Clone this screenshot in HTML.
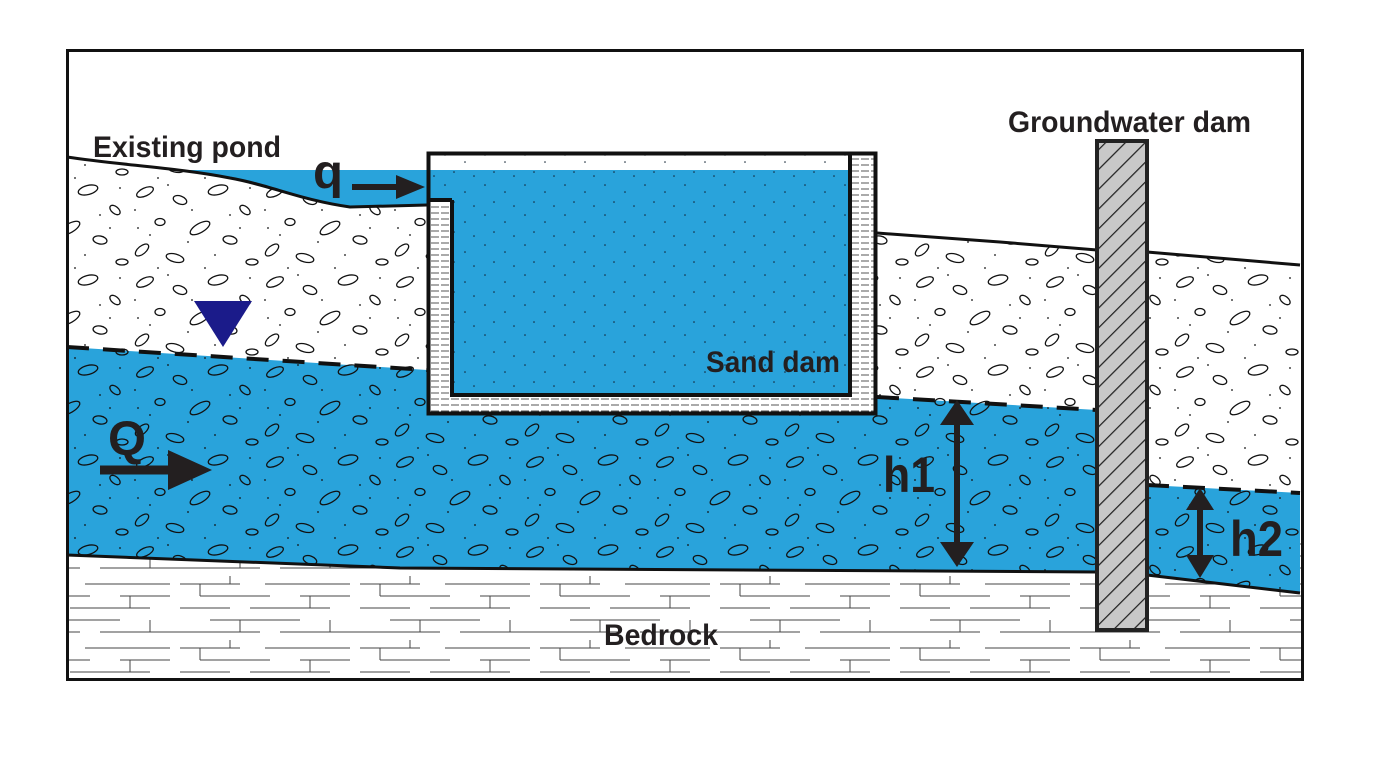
<!DOCTYPE html>
<html><head><meta charset="utf-8"><style>
html,body{margin:0;padding:0;background:#fff}
svg{display:block}
text{font-family:"Liberation Sans",sans-serif;font-weight:bold;fill:#231f20}
</style></head><body>
<svg width="1378" height="774" viewBox="0 0 1378 774" xmlns="http://www.w3.org/2000/svg">
<defs>
<pattern id="peb" width="130" height="90" patternUnits="userSpaceOnUse">
 <g fill="none" stroke="#111" stroke-width="1.3">
  <ellipse cx="15" cy="12" rx="9" ry="4" transform="rotate(-25 15 12)"/>
  <ellipse cx="50" cy="20" rx="7" ry="4" transform="rotate(20 50 20)"/>
  <ellipse cx="88" cy="10" rx="10" ry="4.5" transform="rotate(-15 88 10)"/>
  <ellipse cx="115" cy="30" rx="6" ry="3.5" transform="rotate(40 115 30)"/>
  <ellipse cx="30" cy="42" rx="5" ry="3.5"/>
  <ellipse cx="70" cy="48" rx="11" ry="4.5" transform="rotate(-30 70 48)"/>
  <ellipse cx="100" cy="60" rx="7" ry="4" transform="rotate(10 100 60)"/>
  <ellipse cx="12" cy="70" rx="8" ry="4" transform="rotate(-40 12 70)"/>
  <ellipse cx="45" cy="78" rx="9" ry="4" transform="rotate(15 45 78)"/>
  <ellipse cx="122" cy="82" rx="6" ry="3"/>
 </g>
 <g fill="#111">
  <circle cx="5" cy="30" r="0.9"/><circle cx="38" cy="5" r="0.9"/><circle cx="62" cy="30" r="0.9"/>
  <circle cx="100" cy="35" r="0.9"/><circle cx="20" cy="55" r="0.9"/><circle cx="85" cy="75" r="0.9"/>
  <circle cx="120" cy="8" r="0.9"/><circle cx="58" cy="62" r="0.9"/><circle cx="110" cy="48" r="0.9"/>
  <circle cx="28" cy="88" r="0.9"/><circle cx="75" cy="88" r="0.9"/><circle cx="8" cy="48" r="0.9"/>
 </g>
</pattern>
<pattern id="dots" width="40" height="30" patternUnits="userSpaceOnUse">
 <g fill="#123">
 <circle cx="5" cy="5" r="0.8"/><circle cx="25" cy="12" r="0.8"/><circle cx="14" cy="22" r="0.8"/><circle cx="34" cy="26" r="0.8"/>
 </g>
</pattern>
<pattern id="rock" width="180" height="64" patternUnits="userSpaceOnUse">
 <g stroke="#444" stroke-width="1" fill="none">
  <path d="M0 8H60M85 8H170M20 20H90M120 20H170M0 32H50M70 32H150M30 44H120M0 56H80M100 56H180"/>
  <path d="M50 0V8M130 20V32M60 44V56M20 8V20M150 44V56"/>
 </g>
</pattern>
<pattern id="wall" width="10" height="6" patternUnits="userSpaceOnUse">
 <path d="M1 3H9" stroke="#555" stroke-width="1"/>
</pattern>
<pattern id="hatch" width="14" height="14" patternUnits="userSpaceOnUse" patternTransform="rotate(45)">
 <rect width="14" height="14" fill="#c8c8c8"/>
 <path d="M0 0V14" stroke="#222" stroke-width="2.5"/>
</pattern>
</defs>

<rect x="67" y="50" width="1236" height="630" fill="#fff"/>
<rect x="67" y="540" width="1236" height="140" fill="url(#rock)"/>

<path d="M160 170 H430 V206 L350 207 C300 200 270 185 230 178 C200 173 180 171 160 170Z" fill="#29a3db"/>

<path d="M67 157 C120 165 180 168 230 178 C270 185 300 200 350 207 L427 205 V370 L67 347Z" fill="#fff"/>
<path d="M67 157 C120 165 180 168 230 178 C270 185 300 200 350 207 L427 205 V370 L67 347Z" fill="url(#peb)"/>
<path d="M877 233 L1000 242 L1097 250 V410 L877 397Z" fill="url(#peb)"/>
<path d="M1147 252 L1300 265 V493 L1147 485Z" fill="url(#peb)"/>

<path d="M67 347 L427 370 V415 H877 V397 L1097 410 V572 L400 568 L67 555Z" fill="#29a3db"/>
<path d="M67 347 L427 370 V415 H877 V397 L1097 410 V572 L400 568 L67 555Z" fill="url(#peb)"/>
<path d="M1147 485 L1300 493 V593 L1147 575Z" fill="#29a3db"/>
<path d="M1147 485 L1300 493 V593 L1147 575Z" fill="url(#peb)"/>

<g fill="none" stroke="#111" stroke-width="3">
<path d="M67 157 C120 165 180 168 230 178 C270 185 300 200 350 207 L427 205"/>
<path d="M877 233 L1000 242 L1097 250"/>
<path d="M1147 252 L1300 265"/>
<path d="M67 555 L400 568 L1097 572"/>
<path d="M1147 575 L1300 593"/>
<path d="M67 347 L427 370" stroke-dasharray="22 14" stroke-width="4"/>
<path d="M877 397 L1097 410" stroke-dasharray="22 14" stroke-width="4"/>
<path d="M1147 485 L1300 493" stroke-dasharray="22 14" stroke-width="4"/>
</g>

<rect x="427" y="152" width="450" height="263" fill="#fff"/>
<rect x="427" y="152" width="450" height="263" fill="url(#wall)"/>
<rect x="430" y="152" width="420" height="18" fill="#fff"/>
<rect x="430" y="152" width="420" height="18" fill="url(#dots)"/>
<path d="M429 170 H850 V395 H452 V200 H429Z" fill="#29a3db"/>
<path d="M429 170 H850 V395 H452 V200 H429Z" fill="url(#dots)"/>
<path d="M452 200 V395 H850 V152" fill="none" stroke="#111" stroke-width="4"/>
<path d="M427 200 H452" stroke="#111" stroke-width="4"/>
<rect x="428.5" y="153.5" width="447" height="260" fill="none" stroke="#111" stroke-width="4"/>

<rect x="1097" y="141" width="50" height="489" fill="url(#hatch)" stroke="#222" stroke-width="4"/>

<polygon points="194,301 252,301 223,347" fill="#1b1b8a"/>

<g fill="#231f20" stroke="#231f20">
<path d="M352 187 H398" stroke-width="6"/>
<polygon points="396,175 425,187 396,199" stroke="none"/>
<path d="M100 470 H170" stroke-width="9"/>
<polygon points="168,450 212,470 168,490" stroke="none"/>
<path d="M957 420 V547" stroke-width="6"/>
<polygon points="940,425 957,400 974,425" stroke="none"/>
<polygon points="940,542 957,567 974,542" stroke="none"/>
<path d="M1200 505 V562" stroke-width="6"/>
<polygon points="1186,510 1200,488 1214,510" stroke="none"/>
<polygon points="1186,555 1200,578 1214,555" stroke="none"/>
</g>

<rect x="67.5" y="50.5" width="1235" height="629" fill="none" stroke="#111" stroke-width="3"/>

<text x="93" y="157" font-size="30" textLength="188" lengthAdjust="spacingAndGlyphs">Existing pond</text>
<text x="313" y="188" font-size="48" textLength="30" lengthAdjust="spacingAndGlyphs">q</text>
<text x="1008" y="132" font-size="30" textLength="243" lengthAdjust="spacingAndGlyphs">Groundwater dam</text>
<text x="706" y="372" font-size="30" textLength="134" lengthAdjust="spacingAndGlyphs">Sand dam</text>
<text x="108" y="455" font-size="48" textLength="38" lengthAdjust="spacingAndGlyphs">Q</text>
<text x="883" y="492" font-size="50" textLength="52" lengthAdjust="spacingAndGlyphs">h1</text>
<text x="1230" y="556" font-size="50" textLength="53" lengthAdjust="spacingAndGlyphs">h2</text>
<text x="604" y="645" font-size="30" textLength="114" lengthAdjust="spacingAndGlyphs">Bedrock</text>
</svg>
</body></html>
